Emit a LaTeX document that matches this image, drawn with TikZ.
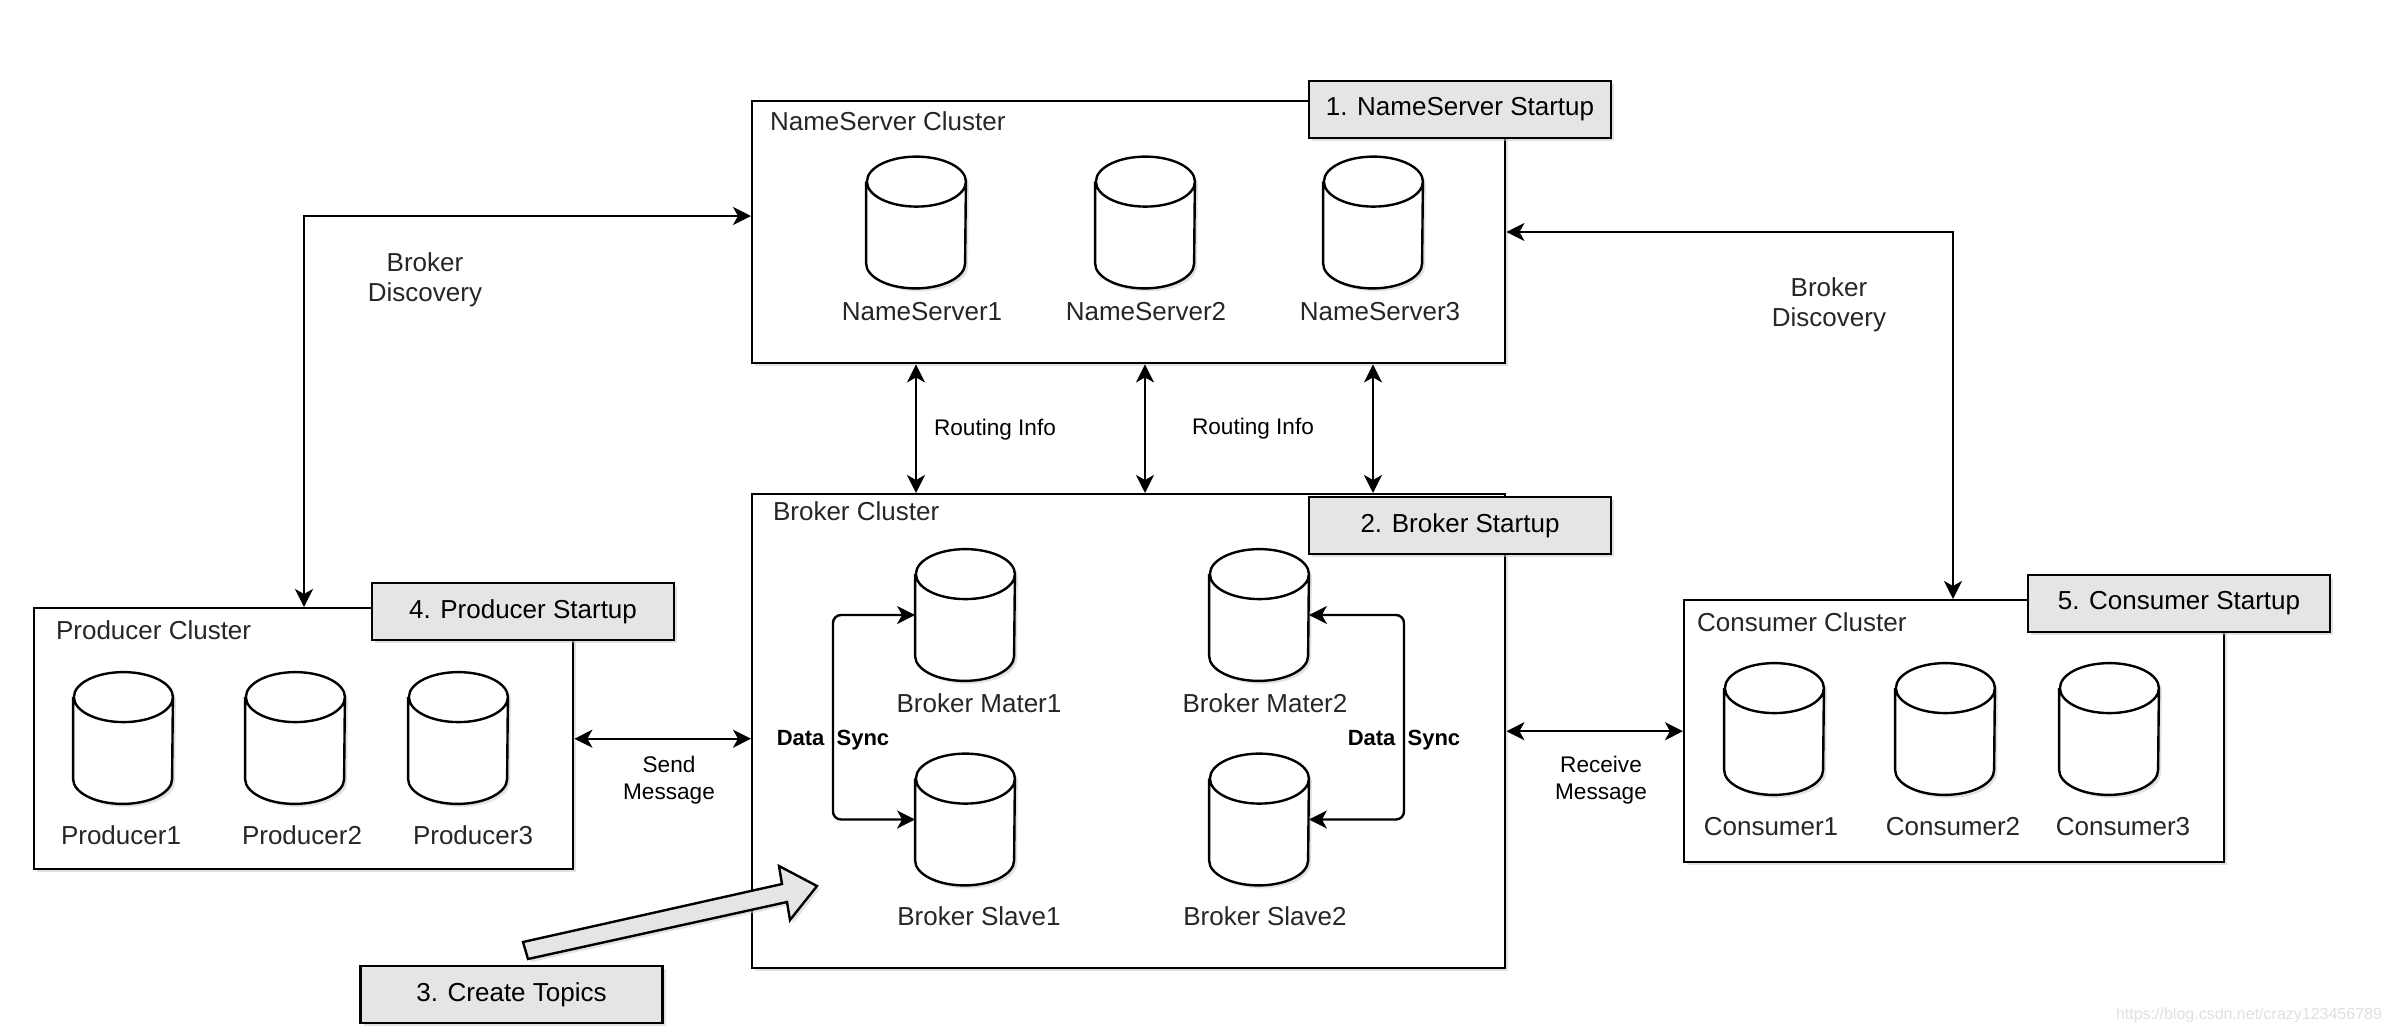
\documentclass[tikz,border=0pt]{standalone}
\usepackage{fontspec}
\setmainfont{Liberation Sans}
\usetikzlibrary{positioning,shadows,arrows.meta}

% database drum drawn round a named placeholder node
\newcommand{\dbcyl}[1]{%
  \draw[dbline] ([yshift=-12.5pt]#1.north west) -- ([yshift=12.5pt]#1.south west)
    arc[start angle=180,end angle=360,x radius=24.75pt,y radius=12.5pt]
    -- ([yshift=-12.5pt]#1.north east)
    arc[start angle=0,end angle=180,x radius=24.75pt,y radius=12.5pt]
    arc[start angle=180,end angle=360,x radius=24.75pt,y radius=12.5pt];}

\begin{document}
\begin{tikzpicture}[x=0.5pt,y=-0.5pt,
  font=\fontsize{13}{15}\selectfont,
  dshadow/.style={drop shadow={shadow xshift=1.5pt,shadow yshift=-1.5pt,fill=black!22}},
  cluster/.style={draw,line width=1.2pt,fill=white,dshadow,anchor=north west,inner sep=0pt},
  stepbox/.style={draw,line width=1.2pt,fill=black!10,dshadow,minimum width=151pt,minimum height=28.5pt,inner sep=0pt},
  db/.style={minimum width=49.5pt,minimum height=65.5pt,inner sep=0pt},
  dbline/.style={line width=1.2pt,fill=white,dshadow},
  lbl/.style={text=black!85},
  edgelbl/.style={font=\fontsize{11.3}{13.5}\selectfont,align=center},
  link/.style={line width=1.2pt,<->,>={Stealth[length=9pt,width=9pt,inset=2.5pt]}}
]
  \fill[white] (0,0) rectangle (2390,1034);
  \useasboundingbox (0,0) rectangle (2390,1034);

  % clusters
  \node[cluster,minimum width=376.5pt,minimum height=131pt] (nsbox) at (751,100) {};
  \node[cluster,minimum width=376.5pt,minimum height=237pt] (brbox) at (751,493) {};
  \node[cluster,minimum width=269.5pt,minimum height=130.5pt] (prodbox) at (33,607) {};
  \node[cluster,minimum width=270pt,minimum height=131pt] (conbox) at (1683,599) {};

  \node[lbl,anchor=west] (nstitle) at (763,121) {NameServer Cluster};
  \node[lbl,anchor=west] (brtitle) at (766,511) {Broker Cluster};
  \node[lbl,anchor=west] (prodtitle) at (49,630) {Producer Cluster};
  \node[lbl,anchor=west] (contitle) at (1690,622) {Consumer Cluster};

  % startup steps
  \node[stepbox] (nsstart) at (1460,109.5) {1. NameServer Startup};
  \node[stepbox] (brstart) at (1460,525.5) {2. Broker Startup};
  \node[stepbox] (topics) at (511.5,994.5) {3. Create Topics};
  \node[stepbox] (prodstart) at (523,611.5) {4. Producer Startup};
  \node[stepbox] (constart) at (2179,603.5) {5. Consumer Startup};

  % name servers
  \node[db] (ns1) at (916,222.5) {};
  \node[db] (ns2) at (1145,222.5) {};
  \node[db] (ns3) at (1373,222.5) {};
  \node[lbl] (ns1l) at (922,312) {NameServer1};
  \node[lbl] (ns2l) at (1146,312) {NameServer2};
  \node[lbl] (ns3l) at (1380,312) {NameServer3};

  % brokers
  \node[db] (m1) at (965,615) {};
  \node[db] (s1) at (965,819.5) {};
  \node[db] (m2) at (1259,615) {};
  \node[db] (s2) at (1259,819.5) {};
  \node[lbl] (m1l) at (979,703) {Broker Mater1};
  \node[lbl] (s1l) at (979,916) {Broker Slave1};
  \node[lbl] (m2l) at (1265,703) {Broker Mater2};
  \node[lbl] (s2l) at (1265,916) {Broker Slave2};

  % producers
  \node[db] (p1) at (123,738) {};
  \node[db] (p2) at (295,738) {};
  \node[db] (p3) at (458,738) {};
  \node[lbl] (p1l) at (121,835) {Producer1};
  \node[lbl] (p2l) at (302,835) {Producer2};
  \node[lbl] (p3l) at (473,835) {Producer3};

  % consumers
  \node[db] (c1) at (1774,729) {};
  \node[db] (c2) at (1945,729) {};
  \node[db] (c3) at (2109,729) {};
  \node[lbl] (c1l) at (1771,827) {Consumer1};
  \node[lbl] (c2l) at (1953,827) {Consumer2};
  \node[lbl] (c3l) at (2123,827) {Consumer3};

  \foreach \n in {ns1,ns2,ns3,m1,s1,m2,s2,p1,p2,p3,c1,c2,c3}
    \dbcyl{\n};

  % broker discovery
  \coordinate (bdl) at (304,216);
  \coordinate (bdr) at (1953,232);
  \draw[link] (prodbox.north -| bdl) |- (nsbox.west |- bdl);
  \draw[link] (nsbox.east |- bdr) -| (conbox.north -| bdr);
  \node[lbl,align=center] (bdltxt) at (425,280) {Broker\\Discovery};
  \node[lbl,align=center] (bdrtxt) at (1829,305) {Broker\\Discovery};

  % routing info
  \draw[link] (nsbox.south -| ns1) -- (brbox.north -| ns1);
  \draw[link] (nsbox.south -| ns2) -- (brbox.north -| ns2);
  \draw[link] (nsbox.south -| ns3) -- (brbox.north -| ns3);
  \node[edgelbl] (ri1) at (995,430) {Routing Info};
  \node[edgelbl] (ri2) at (1253,429) {Routing Info};

  % messages
  \draw[link] (prodbox.east) -- (prodbox.east -| brbox.west);
  \draw[link] (conbox.west -| brbox.east) -- (conbox.west);
  \node[edgelbl] (sendtxt) at (669,780) {Send\\Message};
  \node[edgelbl] (recvtxt) at (1601,780) {Receive\\Message};

  % data sync
  \coordinate (dsl) at (833,720);
  \coordinate (dsr) at (1404,720);
  \draw[link,rounded corners=4pt] (m1.west) -- (m1.west -| dsl) |- (s1.west);
  \draw[link,rounded corners=4pt] (m2.east) -- (m2.east -| dsr) |- (s2.east);
  \node[edgelbl,font=\fontsize{11}{13}\selectfont\bfseries] (ds1) at (833,740) {Data\ \ Sync};
  \node[edgelbl,font=\fontsize{11}{13}\selectfont\bfseries] (ds2) at (1404,740) {Data\ \ Sync};

  % create topics arrow
  \draw[line width=1.2pt,fill=black!10,dshadow] (523,942) -- (782,884) -- (779,866)
    -- (817,886) -- (790,920) -- (787,902) -- (528,959) -- cycle;

  \node[text=black!12,font=\fontsize{8}{9}\selectfont] (mark) at (2249,1015) {https://blog.csdn.net/crazy123456789};
\end{tikzpicture}
\end{document}
